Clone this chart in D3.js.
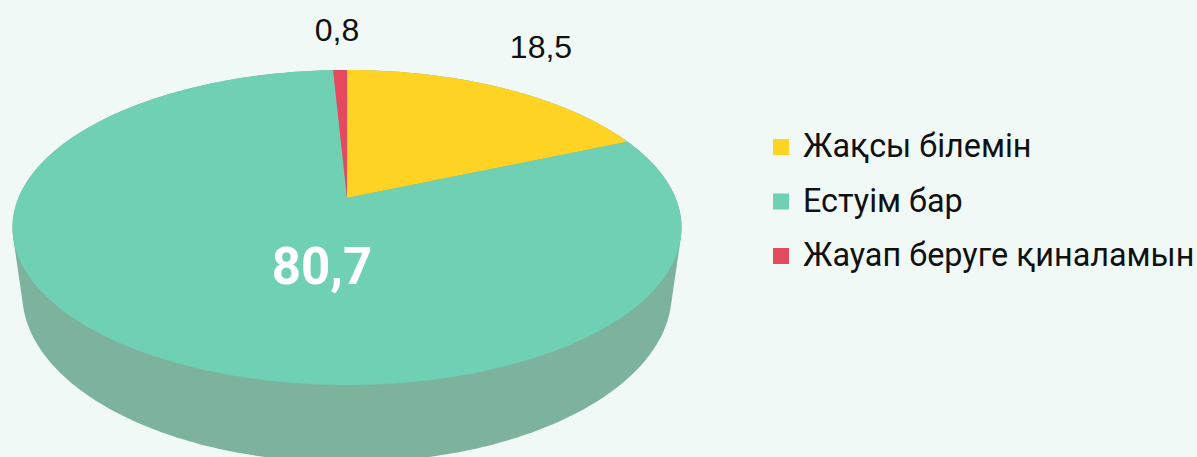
<!DOCTYPE html>
<html>
<head>
<meta charset="utf-8">
<script src="https://cdn.jsdelivr.net/npm/d3@7"></script>
<style>
    html, body { margin: 0; padding: 0; background: #f0f9f6; overflow: hidden; }
    text { fill: #111; }
</style>
</head>
<body>
<div id="chart"></div>
<script>
var categories = ["Жақсы білемін", "Естуім бар", "Жауап беруге қиналамын"];
var values = [18.5, 80.7, 0.8];
var valueLabels = ["18,5", "80,7", "0,8"];
var colors = ["#ffd324", "#70d0b4", "#e6495e"];

var width = 1197,
    height = 457,
    wallColor = "#7db29c",
    apex = [347, 198],
    tilt = 0.187; // perspective: back of the disc is squeezed, front is stretched

// disc is a circle seen in perspective, so the apex is not the ellipse centre
function projector(cx, cy, rx, ry) {
    return function(a) {
        var w = 1 + tilt * Math.cos(a);
        return [cx + rx * Math.sin(a) / w, cy - ry * Math.cos(a) / w];
    };
}
var topFace = projector(apex[0], apex[1], 328.6, 152),
    bottomFace = projector(347, 262, 319, 163);

function sample(f, a0, a1) {
    var n = Math.max(2, Math.ceil((a1 - a0) * 60));
    return d3.range(n + 1).map(function(i) { return f(a0 + (a1 - a0) * i / n); });
}

var svg = d3.select("#chart").append("svg")
    .attr("width", width)
    .attr("height", height)
    .style("display", "block");

var line = d3.line();

// side wall: hull of both rims
var hull = d3.polygonHull(sample(topFace, 0, 2 * Math.PI).concat(sample(bottomFace, 0, 2 * Math.PI)));
svg.append("path")
    .attr("d", line(hull) + "Z")
    .attr("fill", wallColor);

var arcs = d3.pie().sort(null).startAngle(0).endAngle(2 * Math.PI)(values);

svg.selectAll(".slice")
    .data(arcs)
    .enter()
    .append("path")
    .attr("class", "slice")
    .attr("fill", function(d, i) { return colors[i]; })
    .attr("d", function(d) {
        return line([apex].concat(sample(topFace, d.startAngle, d.endAngle))) + "Z";
    });

// value labels
var labelPos = [[541, 58], [322, 284], [337, 41]];
svg.selectAll(".valueLabel")
    .data(valueLabels)
    .enter()
    .append("text")
    .attr("class", "valueLabel")
    .attr("x", function(d, i) { return labelPos[i][0]; })
    .attr("y", function(d, i) { return labelPos[i][1]; })
    .attr("text-anchor", "middle")
    .style("font-family", function(d, i) { return i === 1 ? "Roboto" : "'Liberation Sans'"; })
    .style("font-weight", function(d, i) { return i === 1 ? 700 : 400; })
    .style("font-size", function(d, i) { return i === 1 ? "51px" : "32px"; })
    .style("fill", function(d, i) { return i === 1 ? "#fff" : "#111"; })
    .text(function(d) { return d; });

// legend
var legendY = d3.scalePoint().domain(categories).range([147, 256]);

var rows = svg.selectAll(".legendRow")
    .data(categories)
    .enter()
    .append("g")
    .attr("class", "legendRow")
    .attr("transform", function(d) { return "translate(773," + legendY(d) + ")"; });

rows.append("rect")
    .attr("y", -8)
    .attr("width", 16)
    .attr("height", 16)
    .attr("fill", function(d, i) { return colors[i]; });

rows.append("text")
    .attr("x", 30)
    .attr("y", 10)
    .style("font-family", "Roboto")
    .style("font-size", "32.4px")
    .text(function(d) { return d; });
</script>
</body>
</html>
